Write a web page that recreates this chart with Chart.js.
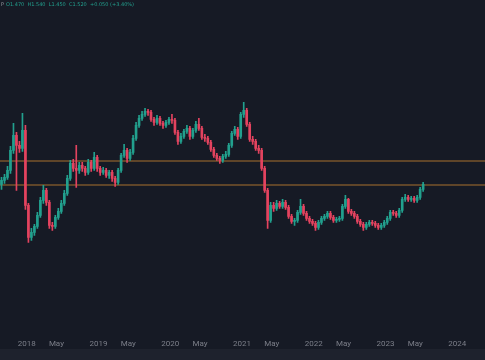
<!DOCTYPE html>
<html>
<head>
<meta charset="utf-8">
<script src="https://cdn.jsdelivr.net/npm/chart.js@4.4.1/dist/chart.umd.min.js"></script>
<style>
  html, body { margin: 0; padding: 0; background: #161a25; overflow: hidden; }
  #wrap { position: relative; width: 485px; height: 360px; background: #161a25; }
  #strip { position: absolute; left: 0; top: 349px; width: 485px; height: 11px; background: #1e222d; }
  canvas { position: absolute; left: 0; top: 0; }
</style>
</head>
<body>
<div id="wrap">
  <canvas id="chart" width="485" height="352"></canvas>
  <div id="strip"></div>
</div>
<script>
// candles, half-month spacing starting late summer 2017
const startYear = 2017.649;
const step = 1 / 24;

const opens = [1.52,1.56,1.59,1.66,1.86,2.01,1.91,1.88,2.06,1.31, 0.99,1.04,1.10,1.21,1.36,1.46,1.34,1.11,1.10,1.19,
  1.25,1.33,1.43,1.58,1.73,1.68,1.66,1.71,1.68,1.64, 1.74,1.68,1.79,1.68,1.64,1.66,1.61,1.64,1.58,1.54,
  1.66,1.81,1.86,1.78,1.84,1.98,2.11,2.18,2.22,2.25, 2.24,2.17,2.14,2.18,2.13,2.11,2.14,2.17,2.16,2.04,
  1.95,2.00,2.05,2.08,2.00,2.06,2.12,2.08,1.99,1.98, 1.94,1.87,1.81,1.78,1.76,1.80,1.82,1.91,2.03,2.07,
  2.00,2.22,2.26,2.12,1.97,1.95,1.88,1.86,1.68,1.46, 1.16,1.31,1.28,1.33,1.30,1.34,1.29,1.20,1.15,1.16,
  1.24,1.30,1.23,1.18,1.15,1.13,1.09,1.14,1.18,1.20, 1.23,1.19,1.16,1.17,1.18,1.30,1.37,1.25,1.23,1.20,
  1.15,1.12,1.09,1.12,1.14,1.13,1.11,1.09,1.11,1.14, 1.18,1.24,1.23,1.21,1.26,1.37,1.39,1.37,1.38,1.36,
  1.39,1.47];

const highs = [1.59,1.62,1.70,1.90,2.13,2.04,1.95,2.23,2.11,1.33, 1.08,1.12,1.24,1.39,1.51,1.48,1.36,1.14,1.21,1.28,
  1.36,1.46,1.61,1.76,1.77,1.91,1.74,1.74,1.70,1.77, 1.76,1.84,1.81,1.70,1.69,1.68,1.66,1.66,1.60,1.68,
  1.83,1.92,1.88,1.87,2.01,2.14,2.21,2.25,2.28,2.27, 2.26,2.19,2.21,2.20,2.15,2.16,2.19,2.22,2.18,2.06,
  2.03,2.07,2.11,2.10,2.08,2.15,2.18,2.10,2.02,2.00, 1.96,1.89,1.83,1.80,1.82,1.85,1.93,2.05,2.10,2.09,
  2.24,2.34,2.28,2.14,2.00,1.97,1.91,1.88,1.70,1.48, 1.34,1.34,1.36,1.35,1.37,1.36,1.31,1.22,1.18,1.26,
  1.37,1.32,1.25,1.20,1.17,1.15,1.16,1.20,1.22,1.25, 1.25,1.21,1.19,1.20,1.32,1.41,1.38,1.27,1.25,1.22,
  1.17,1.14,1.14,1.16,1.16,1.15,1.13,1.13,1.16,1.20, 1.26,1.26,1.25,1.28,1.39,1.42,1.41,1.40,1.40,1.41,
  1.49,1.54];

const lows = [1.47,1.53,1.57,1.63,1.83,1.46,1.84,1.85,1.27,0.94, 0.96,1.01,1.08,1.19,1.33,1.31,1.08,1.06,1.08,1.17,
  1.23,1.31,1.41,1.56,1.65,1.49,1.63,1.65,1.61,1.62, 1.65,1.66,1.65,1.61,1.62,1.59,1.58,1.55,1.50,1.52,
  1.64,1.79,1.74,1.76,1.82,1.96,2.09,2.16,2.20,2.21, 2.15,2.11,2.12,2.11,2.08,2.09,2.12,2.13,2.02,1.92,
  1.93,1.98,2.03,1.97,1.98,2.04,2.06,1.97,1.95,1.92, 1.85,1.79,1.76,1.73,1.74,1.78,1.80,1.89,2.01,1.97,
  1.98,2.19,2.10,1.95,1.92,1.86,1.83,1.66,1.44,1.08, 1.14,1.25,1.26,1.28,1.28,1.27,1.18,1.13,1.11,1.14,
  1.22,1.21,1.16,1.13,1.11,1.06,1.07,1.12,1.16,1.18, 1.17,1.14,1.14,1.15,1.16,1.28,1.23,1.21,1.18,1.13,
  1.10,1.06,1.07,1.10,1.11,1.09,1.07,1.07,1.09,1.12, 1.16,1.21,1.19,1.19,1.24,1.35,1.35,1.35,1.34,1.34,
  1.37,1.45];

const closes = [1.56,1.59,1.66,1.86,2.01,1.91,1.88,2.06,1.31,0.99, 1.04,1.10,1.21,1.36,1.46,1.34,1.11,1.10,1.19,1.25,
  1.33,1.43,1.58,1.73,1.68,1.66,1.71,1.68,1.64,1.74, 1.68,1.79,1.68,1.64,1.66,1.61,1.64,1.58,1.54,1.66,
  1.81,1.86,1.78,1.84,1.98,2.11,2.18,2.22,2.25,2.24, 2.17,2.14,2.18,2.13,2.11,2.14,2.17,2.16,2.04,1.95,
  2.00,2.05,2.08,2.00,2.06,2.12,2.08,1.99,1.98,1.94, 1.87,1.81,1.78,1.76,1.80,1.82,1.91,2.03,2.07,2.00,
  2.22,2.26,2.12,1.97,1.95,1.88,1.86,1.68,1.46,1.16, 1.31,1.28,1.33,1.30,1.34,1.29,1.20,1.15,1.16,1.24,
  1.30,1.23,1.18,1.15,1.13,1.09,1.14,1.18,1.20,1.23, 1.19,1.16,1.17,1.18,1.30,1.37,1.25,1.23,1.20,1.15,
  1.12,1.09,1.12,1.14,1.13,1.11,1.09,1.11,1.14,1.18, 1.24,1.23,1.21,1.26,1.37,1.39,1.37,1.38,1.36,1.39,
  1.47,1.52];

// horizontal levels
const levels = [1.754, 1.514];

// time axis labels
const tickValues = [2018, 2018.414, 2019, 2019.414, 2020, 2020.414, 2021, 2021.414, 2022, 2022.414, 2023, 2023.414, 2024];
const tickLabels = ['2018', 'May', '2019', 'May', '2020', 'May', '2021', 'May', '2022', 'May', '2023', 'May', '2024'];

const xMin = 2017.628;
const xMax = 2024.386;

const UP = '#22a08e';
const DOWN = '#e3435f';
const LEVEL = '#a8702f';

const times = closes.map((c, i) => startYear + i * step);
const colors = closes.map((c, i) => c >= opens[i] ? UP : DOWN);

const bodies = closes.map((c, i) => ({ x: times[i], y: [opens[i], c] }));
const wicks = closes.map((c, i) => ({ x: times[i], y: [lows[i], highs[i]] }));

const headerPlugin = {
  id: 'header',
  afterDraw(chart) {
    const ctx = chart.ctx;
    ctx.save();
    ctx.font = '5px "DejaVu Sans", sans-serif';
    ctx.textBaseline = 'top';
    ctx.fillStyle = '#9598a1';
    ctx.fillText('P', 1, 2);
    ctx.fillStyle = UP;
    const last = closes.length - 1;
    const chg = closes[last] - opens[last];
    const txt = 'O' + opens[last].toFixed(3) + '  H' + highs[last].toFixed(3) + '  L' + lows[last].toFixed(3) +
      '  C' + closes[last].toFixed(3) + '  +' + chg.toFixed(3) + ' (+' + (chg / opens[last] * 100).toFixed(2) + '%)';
    ctx.fillText(txt, 6, 2);
    ctx.restore();
  }
};

new Chart(document.getElementById('chart'), {
  type: 'bar',
  data: {
    datasets: [
      {
        label: 'body',
        data: bodies,
        backgroundColor: colors,
        borderWidth: 0,
        barThickness: 2,
        minBarLength: 1,
        grouped: false
      },
      {
        label: 'wick',
        data: wicks,
        backgroundColor: colors,
        borderWidth: 0,
        barThickness: 1,
        grouped: false
      },
      {
        type: 'line',
        label: 'level1',
        data: [{ x: xMin, y: levels[0] }, { x: xMax, y: levels[0] }],
        borderColor: LEVEL,
        borderWidth: 1,
        pointRadius: 0
      },
      {
        type: 'line',
        label: 'level2',
        data: [{ x: xMin, y: levels[1] }, { x: xMax, y: levels[1] }],
        borderColor: LEVEL,
        borderWidth: 1,
        pointRadius: 0
      }
    ]
  },
  options: {
    responsive: false,
    animation: false,
    plugins: {
      legend: { display: false },
      tooltip: { enabled: false }
    },
    layout: { padding: 0 },
    scales: {
      x: {
        type: 'linear',
        min: xMin,
        max: xMax,
        offset: false,
        grid: { display: false, drawTicks: false },
        border: { display: false },
        afterBuildTicks(scale) {
          scale.ticks = tickValues.map(v => ({ value: v }));
        },
        ticks: {
          autoSkip: false,
          maxRotation: 0,
          padding: 3,
          color: '#7c7f89',
          font: { size: 8, family: 'Roboto' },
          callback(value) {
            const i = tickValues.indexOf(value);
            return i >= 0 ? tickLabels[i] : '';
          }
        }
      },
      y: {
        display: false,
        min: 0,
        max: 3.364
      }
    }
  },
  plugins: [headerPlugin]
});
</script>
</body>
</html>
